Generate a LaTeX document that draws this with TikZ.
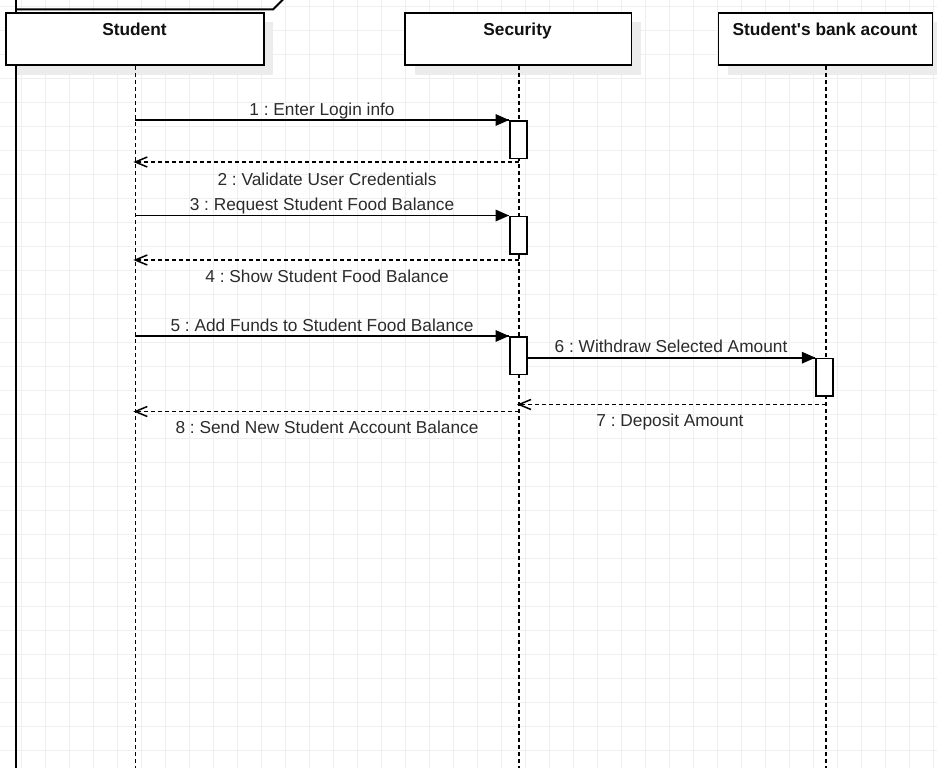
\documentclass[tikz,border=0pt]{standalone}
\usepackage{fontspec}
\setmainfont{Liberation Sans}
\usepackage{xcolor}
\usepackage{tikz}
\usetikzlibrary{shadows}
\definecolor{gridgray}{HTML}{EFEFEF}
\definecolor{shadowgray}{HTML}{ECECEC}
\definecolor{labelgray}{HTML}{2B2B2B}
\definecolor{headblack}{HTML}{111111}
\frenchspacing

\begin{document}
\begin{tikzpicture}[x=1pt,y=1pt,
  headbox/.style={draw=black, fill=white, line width=1.7pt, anchor=north west,
    minimum height=52.3pt, minimum width=#1,
    drop shadow={shadow xshift=9.5pt, shadow yshift=-9.5pt, fill=shadowgray, opacity=1}},
  headtext/.style={anchor=base, text=headblack, font=\fontsize{17.3}{20}\selectfont\bfseries},
  actbox/.style={draw=black, fill=white, line width=1.7pt, anchor=north west,
    minimum width=17pt, minimum height=37.5pt},
  msgtext/.style={anchor=base, text=labelgray, font=\fontsize{17.3}{20}\selectfont},
  callline/.style={draw=black, line width=1.6pt},
  backline/.style={draw=black, line width=1.5pt, dash pattern=on 4pt off 3pt},
  tipline/.style={draw=black, line width=1.5pt},
  lifeline/.style={draw=black, line width=1.6pt, dash pattern=on 4pt off 3pt},
  frameline/.style={draw=black, line width=2pt},
  gridline/.style={draw=gridgray, line width=0.9pt}]
\tikzstyle{every node}+=[inner sep=0pt]
\useasboundingbox (0,0) rectangle (937,-768);
\clip (0,0) rectangle (937,-768);
\draw[gridline, xshift=21.3pt, yshift=-6.7pt, step=24pt] (-48,-792) grid (960,24);
\node[headbox=258pt] (student) at (5,-12) {};
\node[headbox=226.4pt] (security) at (404.3,-12) {};
\node[headbox=214pt] (bank) at (717.7,-12) {};
\node[headtext] (student-name) at (134.5,-35.3) {Student};
\node[headtext] (security-name) at (517.5,-35.3) {Security};
\node[headtext] (bank-name) at (825,-35.3) {Student\textquotesingle s bank acount};
\coordinate (frame-top) at (16,10);
\coordinate (frame-bot) at (16,-768);
\draw[frameline] (frame-top) -- (frame-top |- student.north);
\draw[frameline] (frame-bot |- student.south) -- (frame-bot);
\draw[frameline] (16,-9.5) -- (273,-9.5) -- (283,0.5) -- (283,10);
\coordinate (student-end) at (135.3,-768);
\coordinate (security-end) at (519,-768);
\coordinate (bank-end) at (825.7,-768);
\draw[lifeline] (student-end |- student.south) -- (student-end);
\draw[lifeline] (security-end |- security.south) -- (security-end);
\draw[lifeline] (bank-end |- bank.south) -- (bank-end);
\node[actbox] (act1) at (509,-120) {};
\node[actbox] (act2) at (509,-215.5) {};
\node[actbox] (act3) at (509,-336) {};
\node[actbox] (act4) at (815.3,-357.7) {};
\draw[callline] (student-end |- act1.north west) -- (act1.north west);
\fill (act1.north west) -- ++(-13.5,6) -- ++(0,-12) -- cycle;
\node[msgtext] (msg1) at (322,-115.2) {1 : Enter Login info};
\coordinate (ret2) at (135.3,-162);
\draw[backline] (security-end |- ret2) -- (ret2);
\draw[tipline] ([shift={(12,5)}]ret2) -- (ret2) -- ([shift={(12,-5)}]ret2);
\node[msgtext] (msg2) at (327,-185.3) {2 : Validate User Credentials};
\draw[callline] (student-end |- act2.north west) -- (act2.north west);
\fill (act2.north west) -- ++(-13.5,6) -- ++(0,-12) -- cycle;
\node[msgtext] (msg3) at (322,-210.5) {3 : Request Student Food Balance};
\coordinate (ret4) at (135.3,-260);
\draw[backline] (security-end |- ret4) -- (ret4);
\draw[tipline] ([shift={(12,5)}]ret4) -- (ret4) -- ([shift={(12,-5)}]ret4);
\node[msgtext] (msg4) at (327,-282) {4 : Show Student Food Balance};
\draw[callline] (student-end |- act3.north west) -- (act3.north west);
\fill (act3.north west) -- ++(-13.5,6) -- ++(0,-12) -- cycle;
\node[msgtext] (msg5) at (322,-331) {5 : Add Funds to Student Food Balance};
\draw[callline] (act3.east |- act4.north west) -- (act4.north west);
\fill (act4.north west) -- ++(-13.5,6) -- ++(0,-12) -- cycle;
\node[msgtext] (msg6) at (671,-352) {6 : Withdraw Selected Amount};
\coordinate (ret7) at (519,-404.5);
\draw[backline] (bank-end |- ret7) -- (ret7);
\draw[tipline] ([shift={(12,5)}]ret7) -- (ret7) -- ([shift={(12,-5)}]ret7);
\node[msgtext] (msg7) at (670,-426) {7 : Deposit Amount};
\coordinate (ret8) at (135.3,-411.5);
\draw[backline] (security-end |- ret8) -- (ret8);
\draw[tipline] ([shift={(12,5)}]ret8) -- (ret8) -- ([shift={(12,-5)}]ret8);
\node[msgtext] (msg8) at (327,-433.2) {8 : Send New Student Account Balance};
\end{tikzpicture}
\end{document}
